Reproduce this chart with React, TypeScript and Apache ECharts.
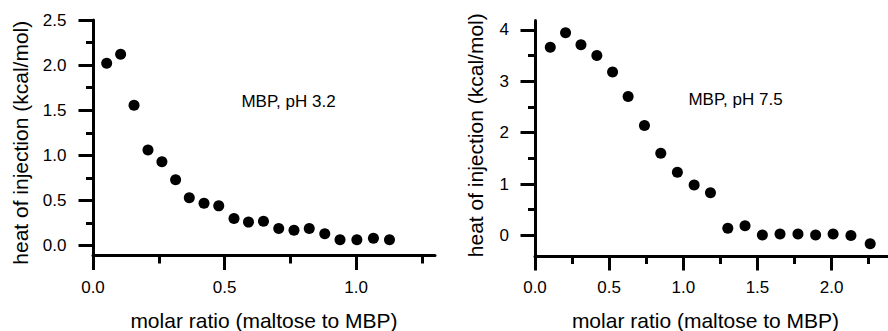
import { useEffect, useRef } from "react";
import * as echarts from "echarts";

// Left panel: MBP, pH 3.2
const leftRatio = [0.052, 0.105, 0.156, 0.209, 0.262, 0.314, 0.366, 0.422, 0.478, 0.536, 0.591, 0.648, 0.706, 0.764, 0.822, 0.881, 0.939, 1.003, 1.066, 1.127];
const leftHeat = [2.02, 2.12, 1.555, 1.06, 0.93, 0.73, 0.53, 0.47, 0.44, 0.3, 0.26, 0.27, 0.19, 0.17, 0.19, 0.13, 0.065, 0.065, 0.08, 0.065];

// Right panel: MBP, pH 7.5
const rightRatio = [0.103, 0.206, 0.31, 0.417, 0.523, 0.628, 0.738, 0.848, 0.96, 1.073, 1.183, 1.3, 1.416, 1.533, 1.652, 1.773, 1.892, 2.01, 2.13, 2.26];
const rightHeat = [3.66, 3.94, 3.71, 3.5, 3.18, 2.7, 2.14, 1.6, 1.23, 0.98, 0.83, 0.14, 0.19, 0.01, 0.03, 0.03, 0.01, 0.03, 0.0, -0.16];

// Tick positions
const leftXMajor = [0, 0.5, 1.0];
const leftXMinor = [0.25, 0.75, 1.25];
const leftYMajor = [0, 0.5, 1.0, 1.5, 2.0, 2.5];
const leftYMinor = [0.25, 0.75, 1.25, 1.75, 2.25];
const rightXMajor = [0, 0.5, 1.0, 1.5, 2.0];
const rightXMinor = [0.25, 0.75, 1.25, 1.75, 2.25];
const rightYMajor = [0, 1, 2, 3, 4];
const rightYMinor = [0.5, 1.5, 2.5, 3.5];

const xTitle = "molar ratio (maltose to MBP)";
const yTitle = "heat of injection (kcal/mol)";
const leftNote = "MBP, pH 3.2";
const rightNote = "MBP, pH 7.5";

const FONT = "'Liberation Sans', Arial, Helvetica, sans-serif";
const lineStyle = { color: "#000", width: 3 };

function mainAxis(
  gridIndex: number,
  min: number,
  max: number,
  ticks: number[],
  fmt: (v: number) => string,
  name: string,
  nameGap: number,
  namePadding: number[],
  labelMargin: number,
  isY: boolean
) {
  return {
    type: "value",
    gridIndex,
    min,
    max,
    name,
    nameLocation: "middle",
    nameGap,
    nameMoveOverlap: false,
    nameTextStyle: { fontSize: 21, color: "#000", fontFamily: FONT, padding: namePadding },
    axisLine: { show: true, onZero: false, lineStyle },
    axisTick: { show: true, length: 14.5, customValues: ticks, lineStyle },
    axisLabel: {
      show: true,
      customValues: ticks,
      margin: labelMargin,
      fontSize: 17,
      color: "#000",
      fontFamily: FONT,
      align: isY ? "right" : "center",
      verticalAlign: isY ? "middle" : "top",
      formatter: (v: number) => fmt(v),
    },
    splitLine: { show: false },
    minorTick: { show: false },
  };
}

function minorAxis(gridIndex: number, min: number, max: number, ticks: number[], length: number) {
  return {
    type: "value",
    gridIndex,
    min,
    max,
    axisLine: { show: false, onZero: false },
    axisTick: { show: true, length, customValues: ticks, lineStyle },
    axisLabel: { show: false },
    splitLine: { show: false },
  };
}

export default function App() {
  const ref = useRef<HTMLDivElement>(null);

  useEffect(() => {
    document.body.style.margin = "0";
    if (!ref.current) return;
    const chart = echarts.init(ref.current, undefined, { renderer: "svg" });

    const f1 = (v: number) => v.toFixed(1);
    const f0 = (v: number) => v.toFixed(0);

    chart.setOption({
      animation: false,
      backgroundColor: "#fff",
      textStyle: { fontFamily: FONT, color: "#000" },
      grid: [
        { left: 93, top: 20, width: 342, height: 235.5, outerBoundsMode: "none", containLabel: false },
        { left: 535, top: 20.5, width: 353, height: 235.5, outerBoundsMode: "none", containLabel: false },
      ],
      xAxis: [
        { ...mainAxis(0, 0, 1.3, leftXMajor, f1, xTitle, 54, [0, 0, 0, 0], 23, false), position: "bottom" },
        { ...minorAxis(0, 0, 1.3, leftXMinor, 8), position: "bottom" },
        { ...mainAxis(1, 0, 2.38, rightXMajor, f1, xTitle, 54, [0, 12, 0, 0], 23, false), position: "bottom" },
        { ...minorAxis(1, 0, 2.38, rightXMinor, 8), position: "bottom" },
      ],
      yAxis: [
        { ...mainAxis(0, -0.11, 2.5, leftYMajor, f1, yTitle, 62, [0, 10, 0, 0], 26.5, true), position: "left" },
        { ...minorAxis(0, -0.11, 2.5, leftYMinor, 7), position: "left" },
        { ...mainAxis(1, -0.4, 4.18, rightYMajor, f0, yTitle, 49, [0, 0, 0, 6], 26, true), position: "left" },
        { ...minorAxis(1, -0.4, 4.18, rightYMinor, 7), position: "left" },
      ],
      series: [
        {
          type: "scatter",
          name: leftNote,
          xAxisIndex: 0,
          yAxisIndex: 0,
          symbol: "circle",
          symbolSize: 11,
          itemStyle: { color: "#000", opacity: 1 },
          clip: false,
          data: leftRatio.map((x, i) => [x, leftHeat[i]]),
        },
        {
          type: "scatter",
          name: rightNote,
          xAxisIndex: 2,
          yAxisIndex: 2,
          symbol: "circle",
          symbolSize: 11,
          itemStyle: { color: "#000", opacity: 1 },
          clip: false,
          data: rightRatio.map((x, i) => [x, rightHeat[i]]),
        },
      ],
      graphic: [
        {
          type: "text",
          x: 288.5,
          y: 101,
          style: {
            text: leftNote,
            fontSize: 17,
            fontFamily: FONT,
            fill: "#000",
            textAlign: "center",
            textVerticalAlign: "middle",
          },
        },
        {
          type: "text",
          x: 735.5,
          y: 99.5,
          style: {
            text: rightNote,
            fontSize: 17,
            fontFamily: FONT,
            fill: "#000",
            textAlign: "center",
            textVerticalAlign: "middle",
          },
        },
      ],
    });

    return () => {
      chart.dispose();
    };
  }, []);

  return <div ref={ref} style={{ width: 888, height: 331 }} />;
}
